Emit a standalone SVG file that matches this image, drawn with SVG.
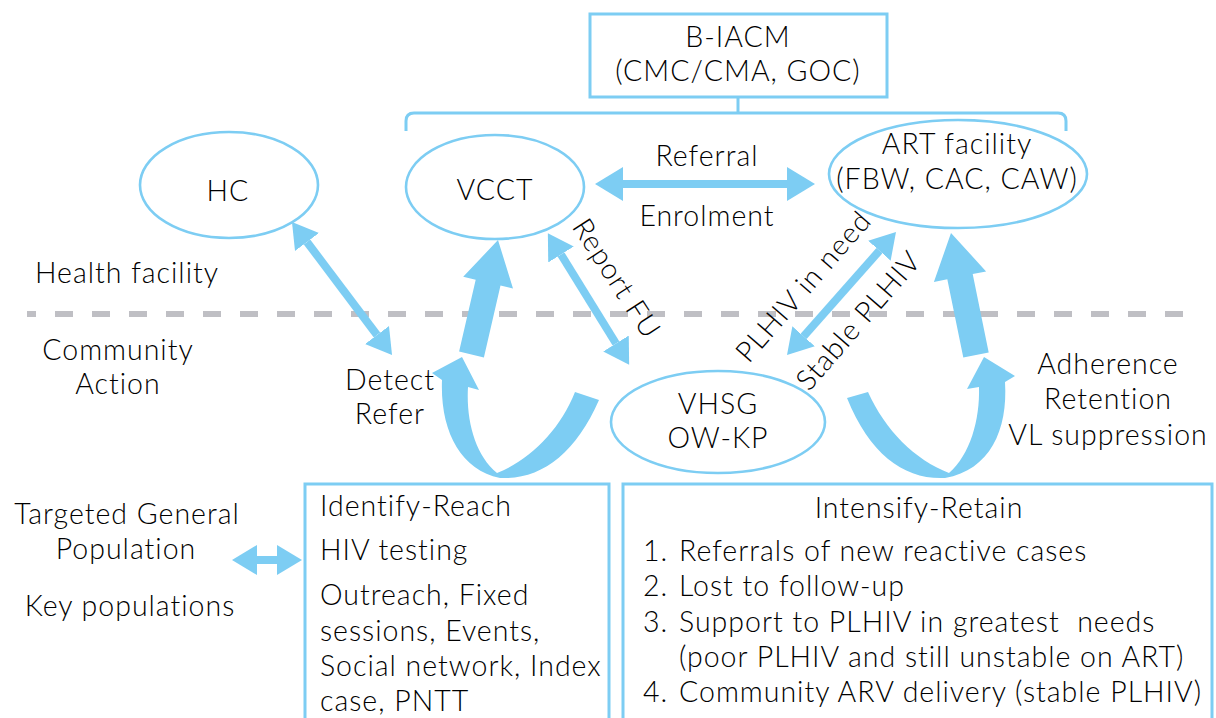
<svg xmlns="http://www.w3.org/2000/svg" width="1216" height="718" viewBox="0 0 1216 718">
<defs>
<style>
text{font-family:Lato,"Noto Sans","Liberation Sans",sans-serif;font-size:28.5px;font-weight:300;letter-spacing:1px;fill:#000}
.m{text-anchor:middle}
.pre{white-space:pre}
.node{fill:#fff;stroke:#7dcdf3;stroke-width:2.6}
.box{fill:#fff;stroke:#7dcdf3;stroke-width:3}
.thin{stroke:#7dcdf3;stroke-width:8;fill:none}
.shape{fill:#7dcdf3;stroke:none}
</style>
<marker id="hd" markerUnits="userSpaceOnUse" orient="auto-start-reverse" markerWidth="40" markerHeight="40" viewBox="0 -20 40 40" refX="0" refY="0">
<path d="M0,-15 L25,0 L0,15 Z" fill="#7dcdf3"/>
</marker>
<marker id="hd2" markerUnits="userSpaceOnUse" orient="auto-start-reverse" markerWidth="40" markerHeight="40" viewBox="0 -20 40 40" refX="0" refY="0">
<path d="M0,-17 L28,0 L0,17 Z" fill="#7dcdf3"/>
</marker>
</defs>
<rect width="1216" height="718" fill="#fff"/>

<line x1="27" y1="314" x2="1185" y2="314" stroke="#bfbfc4" stroke-width="6" stroke-dasharray="18 19" stroke-dashoffset="9"/>

<g id="connectors">
<line x1="738" y1="97" x2="738" y2="113" stroke="#7dcdf3" stroke-width="3"/>
<path d="M406,131 L406,121 Q406,113 414,113 L1058,113 Q1066,113 1066,121 L1066,131" fill="none" stroke="#7dcdf3" stroke-width="3"/>
<line x1="623" y1="184" x2="787" y2="184" class="thin" stroke-width="10" marker-start="url(#hd2)" marker-end="url(#hd2)"/>
<line x1="307" y1="242" x2="377" y2="335" class="thin" marker-start="url(#hd)" marker-end="url(#hd)"/>
<line x1="561" y1="254.5" x2="616" y2="343.5" class="thin" marker-start="url(#hd)" marker-end="url(#hd)"/>
<line x1="879.4" y1="250.7" x2="803.6" y2="336.3" class="thin" marker-start="url(#hd)" marker-end="url(#hd)"/>
<line x1="257" y1="560" x2="277" y2="560" class="thin" stroke-width="11" marker-start="url(#hd)" marker-end="url(#hd)"/>
<polygon class="shape" points="498,240 513,288.4 500.5,285.5 483.9,357.4 459.1,351.6 475.7,279.7 463.2,276.8"/>
<polygon class="shape" points="951,233 986.1,271.4 972.7,274.1 988.7,352.4 963.3,357.6 947.3,279.3 933.9,282"/>
<path class="shape" d="M599,400 C575,455 540,480 500,478 C460,470 440,430 442,380 L432,373 L462,357 L479,390 L468,387 C466,420 475,455 497,473 C530,460 560,430 575,392 Z"/>
<path class="shape" d="M847,398 C870,455 905,480 945,478 C990,470 1008,430 1005,382 L1015,376 L984,357 L967,389 L979,387 C980,420 970,455 949,473 C915,460 885,430 868,392 Z"/>
</g>

<g id="biacm">
<rect class="box" x="590" y="14" width="297" height="83"/>
<text class="m" x="738" y="47">B-IACM</text>
<text class="m" x="738" y="81">(CMC/CMA, GOC)</text>
</g>

<g id="hc">
<ellipse class="node" cx="229" cy="185" rx="89" ry="53"/>
<text class="m" x="228" y="201">HC</text>
</g>

<g id="vcct">
<ellipse class="node" cx="495" cy="187" rx="89" ry="52"/>
<text class="m" x="495" y="200">VCCT</text>
</g>

<g id="art">
<ellipse class="node" cx="958" cy="174" rx="129" ry="54"/>
<text class="m" x="957" y="154">ART facility</text>
<text class="m" x="957" y="189">(FBW, CAC, CAW)</text>
</g>

<g id="vhsg">
<ellipse class="node" cx="718" cy="422" rx="107" ry="51"/>
<text class="m" x="718" y="414">VHSG</text>
<text class="m" x="718" y="448">OW-KP</text>
</g>

<g id="labels">
<text class="m" x="707" y="166">Referral</text>
<text class="m" x="707" y="226">Enrolment</text>
<text x="35" y="283">Health facility</text>
<text class="m" x="118" y="360">Community</text>
<text class="m" x="118" y="394">Action</text>
<text class="m" x="390" y="390">Detect</text>
<text class="m" x="390" y="424">Refer</text>
<text class="m" transform="translate(616,279) rotate(57)" y="9">Report FU</text>
<text class="m" transform="translate(804,287) rotate(-49)" y="9">PLHIV in need</text>
<text class="m" transform="translate(859,321) rotate(-49)" y="9">Stable PLHIV</text>
<text class="m" x="1108" y="374">Adherence</text>
<text class="m" x="1108" y="409">Retention</text>
<text class="m" x="1108" y="445">VL suppression</text>
<text class="m" x="127" y="524">Targeted General</text>
<text class="m" x="126" y="559">Population</text>
<text class="m" x="130" y="616">Key populations</text>
</g>

<g id="identify">
<rect class="box" x="305" y="484" width="304" height="250"/>
<text x="320" y="516">Identify-Reach</text>
<text x="320" y="560">HIV testing</text>
<text x="320" y="605">Outreach, Fixed</text>
<text x="320" y="641">sessions, Events,</text>
<text x="320" y="676">Social network, Index</text>
<text x="320" y="711">case, PNTT</text>
</g>

<g id="intensify">
<rect class="box" x="623" y="484" width="589" height="250"/>
<text class="m" x="919" y="518">Intensify-Retain</text>
<text x="643" y="561">1.</text>
<text x="679" y="561">Referrals of new reactive cases</text>
<text x="643" y="596">2.</text>
<text x="679" y="596">Lost to follow-up</text>
<text x="643" y="632">3.</text>
<text class="pre" x="679" y="632">Support to PLHIV in greatest  needs</text>
<text x="679" y="667">(poor PLHIV and still unstable on ART)</text>
<text x="643" y="702">4.</text>
<text x="679" y="702">Community ARV delivery (stable PLHIV)</text>
</g>
</svg>
